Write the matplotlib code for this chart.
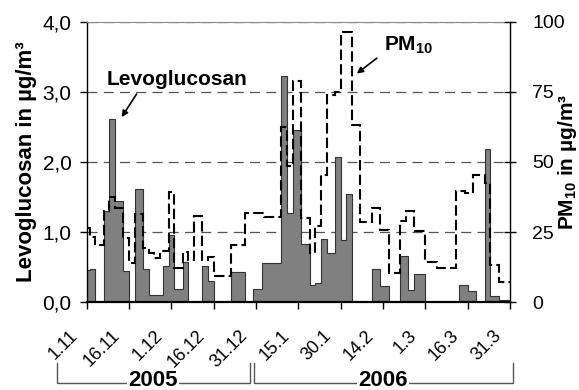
import numpy as np
import matplotlib.pyplot as plt

plt.rcParams['font.family'] = ['Liberation Sans', 'DejaVu Sans']
plt.rcParams['mathtext.fontset'] = 'custom'
plt.rcParams['mathtext.rm'] = 'Liberation Sans'
plt.rcParams['mathtext.bf'] = 'Liberation Sans:bold'

# days counted from 1.11.2005
levo_edges = [0, 1, 3, 6, 8, 10, 13, 15, 17, 20, 22, 27, 29, 31, 34, 36, 41, 43, 45,
              51, 56, 59, 62, 69, 71, 73, 76, 79, 81, 83, 85, 88, 90, 92, 94, 101,
              104, 107, 111, 114, 116, 120, 132, 135, 138, 141, 143, 146, 150]
levo_vals = [0.46, 0.48, 0, 1.30, 2.62, 1.44, 0.44, 0, 1.62, 0.47, 0.10, 0.52, 0.96,
             0.19, 0.57, 0, 0.52, 0.30, 0, 0.43, 0, 0.19, 0.56, 3.23, 1.28, 2.46,
             0.83, 0.24, 0.27, 0.90, 0.70, 2.07, 0.89, 1.54, 0, 0.47, 0.23, 0, 0.66,
             0.18, 0.40, 0, 0.25, 0.16, 0, 2.19, 0.09, 0.03]

pm_edges = [0, 1, 3, 6, 8, 10, 13, 15, 17, 20, 22, 24, 26, 29, 31, 34, 36, 38, 41, 43,
            45, 51, 56, 63, 69, 71, 73, 76, 79, 81, 83, 85, 88, 90, 94, 97, 101, 104,
            107, 111, 113, 116, 120, 124, 131, 134, 137, 141, 143, 146, 150]
pm_vals = [26.5, 23.2, 20.3, 32.6, 37.7, 33.7, 22.9, 13.9, 31.4, 19.4, 17.6, 15.8,
           18.2, 39.4, 12.1, 18.1, 15.2, 30.9, 15.0, 16.0, 9.5, 20.4, 32.0, 30.4,
           62.5, 48.7, 79.0, 30.0, 17.5, 27.3, 45.4, 73.9, 75.1, 96.4, 63.2, 28.7,
           33.5, 25.8, 10.6, 29.0, 32.5, 25.5, 14.5, 12.4, 39.8, 38.8, 45.4, 42.6,
           13.3, 7.4]

tick_days = [0, 15, 30, 45, 60, 75, 90, 105, 120, 135, 150]
tick_labels = ['1.11', '16.11', '1.12', '16.12', '31.12', '15.1', '30.1', '14.2',
               '1.3', '16.3', '31.3']
left_ticks = [0, 1, 2, 3, 4]
left_labels = ['0,0', '1,0', '2,0', '3,0', '4,0']
right_ticks = [0, 25, 50, 75, 100]
years = ['2005', '2006']
year_spans = [(-10.4, 57.9), (59.3, 151.0)]
year_mid = [23.4, 105.0]

fig = plt.figure(figsize=(5.79, 3.9), dpi=100)
ax = fig.add_axes([86.7/579, 1-302.3/390, (510-86.7)/579, 280.6/390])

ax.stairs(levo_vals, levo_edges, fill=True, facecolor='#808080',
          edgecolor='#333333', linewidth=0.8, zorder=2)
ax.set_xlim(0, 150)
ax.set_ylim(0, 4)
ax.set_yticks(left_ticks)
ax.set_yticklabels(left_labels)
ax.set_xticks(tick_days)
ax.tick_params(axis='x', direction='out', length=5, width=1, labelbottom=False)
ax.tick_params(axis='y', direction='out', length=5, width=1, labelsize=15, pad=6)
# date labels, slanted and set a bit left of their ticks
for d, lab in zip(tick_days, tick_labels):
    ax.annotate(lab, xy=(d, 0), xycoords=('data', 'axes fraction'),
                xytext=(-4, -18), textcoords='offset points', rotation=45,
                ha='right', va='top', fontsize=13, annotation_clip=False)
ax.set_axisbelow(True)
ax.yaxis.grid(True, color='#555555', linewidth=0.9, linestyle=(0, (8, 5)))
ax.spines['bottom'].set_linewidth(1.6)
ax.spines['left'].set_linewidth(1.0)
ax.spines['top'].set_color('#888888')
ax.spines['right'].set_visible(False)
ax.set_ylabel('Levoglucosan in µg/m³', fontsize=16, fontweight='bold')
ax.yaxis.set_label_coords(-0.117, 0.5)

ax2 = ax.twinx()
ax2.stairs(pm_vals, pm_edges, fill=False, baseline=None, color='black',
           linewidth=1.5, linestyle=(0, (5, 2)))
ax2.set_ylim(0, 100)
ax2.set_yticks(right_ticks)
ax2.tick_params(axis='y', direction='inout', length=8, width=1, labelsize=14, pad=12)
ax2.spines['right'].set_linewidth(1.0)
ax2.spines['top'].set_visible(False)
ax2.spines['left'].set_visible(False)
ax2.spines['bottom'].set_visible(False)
ax2.set_ylabel(r'PM$_{\mathbf{10}}$ in µg/m³', fontsize=15, fontweight='bold')
ax2.yaxis.set_label_coords(1.108, 0.5)

# labels with arrows
ax.text(32, 3.17, 'Levoglucosan', ha='center', va='center', fontsize=15,
        fontweight='bold')
ax.annotate('', xy=(12.4, 2.64), xytext=(17.7, 2.97),
            arrowprops=dict(arrowstyle='-|>', color='black', lw=1.2, mutation_scale=9,
                            shrinkA=0, shrinkB=0))
ax.text(114.1, 3.67, r'PM$_{\mathbf{10}}$', ha='center', va='center', fontsize=15,
        fontweight='bold')
ax.annotate('', xy=(95.7, 3.26), xytext=(102.8, 3.48),
            arrowprops=dict(arrowstyle='-|>', color='black', lw=1.2, mutation_scale=9,
                            shrinkA=0, shrinkB=0))

# year brackets below the date labels
tr = ax.get_xaxis_transform()
for name, (x0, x1), xm in zip(years, year_spans, year_mid):
    ax.plot([x0, x0, x1, x1], [-0.2174, -0.2887, -0.2887, -0.2174], color='#555555',
            linewidth=1.0, transform=tr, clip_on=False)
    ax.text(xm, -0.277, name, ha='center', va='center', fontsize=16, fontweight='bold',
            transform=tr, bbox=dict(facecolor='white', edgecolor='none', pad=1))

fig.savefig('out.png', dpi=100)
